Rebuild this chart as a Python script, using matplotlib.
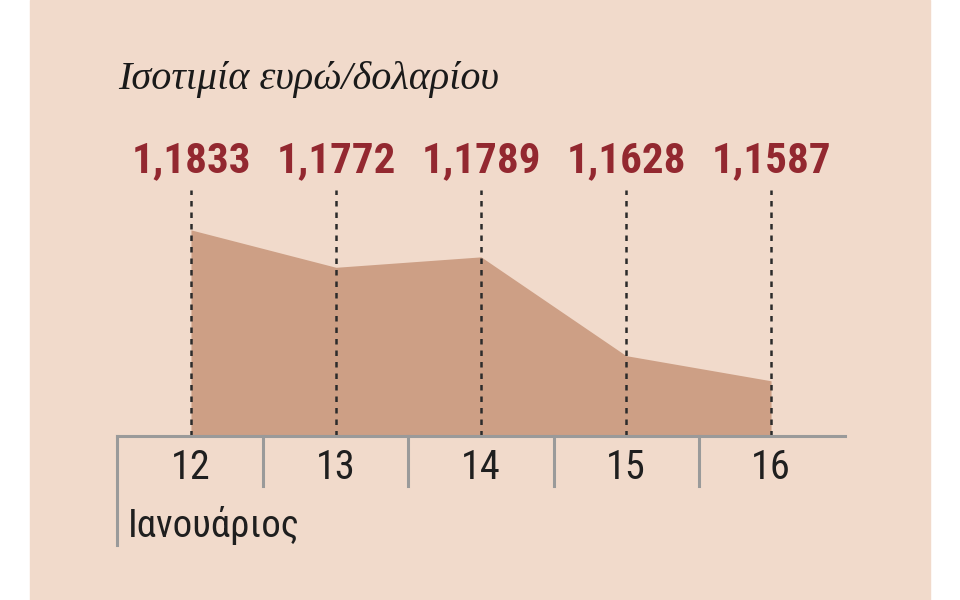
import matplotlib
matplotlib.use('Agg')
import matplotlib.pyplot as plt
from matplotlib.patches import Rectangle

days = ['12', '13', '14', '15', '16']
rates = [1.1833, 1.1772, 1.1789, 1.1628, 1.1587]
labels = ['1,1833', '1,1772', '1,1789', '1,1628', '1,1587']
title = 'Ισοτιμία ευρώ/δολαρίου'
month = 'Ιανουάριος'

bg = '#f1dacb'
fill = '#cd9f85'
red = '#932830'
narrow = ['Roboto Condensed', 'Roboto', 'DejaVu Sans']

fig = plt.figure(figsize=(9.6, 6), dpi=100)
fig.patches.append(Rectangle((30/960, 0), 900/960, 1, transform=fig.transFigure,
                             color=bg, zorder=-10))
ax = fig.add_axes([117/960, 164/600, 728/960, 246/600])
ax.set_facecolor('none')

x = list(range(len(days)))
ax.fill_between(x, rates, 1.1497, color=fill, lw=0, zorder=1)
ax.set_xlim(-0.51, 4.51)
ax.set_ylim(1.1497, 1.1898)

for xi, lab in zip(x, labels):
    ax.plot([xi, xi], [1.1497, 1.1898], color='#2b2b2b', lw=1.8,
            dashes=(2.2, 2.4), zorder=2)
    ax.annotate(lab, xy=(xi, 1), xycoords=('data', 'axes fraction'),
                xytext=(0, 21), textcoords='offset points', ha='center', va='center',
                fontsize=31, fontweight='bold', color=red, family=narrow)
    ax.text(xi, -0.13, days[xi], transform=ax.get_xaxis_transform(), ha='center',
            va='center', fontsize=29, color='#1f1f1f', family=narrow)

for s in ax.spines.values():
    s.set_visible(False)
ax.set_xticks([])
ax.set_yticks([])

axis_col = '#9a9a9a'
ax.plot([-0.51, 4.51], [0, 0], transform=ax.get_xaxis_transform(), color=axis_col,
        lw=2.2, clip_on=False, zorder=3)
ax.plot([-0.51, -0.51], [0, -0.443], transform=ax.get_xaxis_transform(), color=axis_col,
        lw=2.2, clip_on=False, zorder=3)
for sep in [0.5, 1.5, 2.5, 3.5]:
    ax.plot([sep, sep], [0, -0.203], transform=ax.get_xaxis_transform(), color=axis_col,
            lw=2.2, clip_on=False, zorder=3)

ax.text(-0.434, -0.362, month, transform=ax.get_xaxis_transform(), ha='left',
        va='center', fontsize=28, color='#1f1f1f', family=narrow)

fig.text(118/960, 1 - 80/600, title, ha='left', va='center', fontsize=29,
         style='italic', color='#1a1a1a', family=['Liberation Serif', 'DejaVu Serif'])

fig.savefig('out.png', dpi=100, facecolor='white')
